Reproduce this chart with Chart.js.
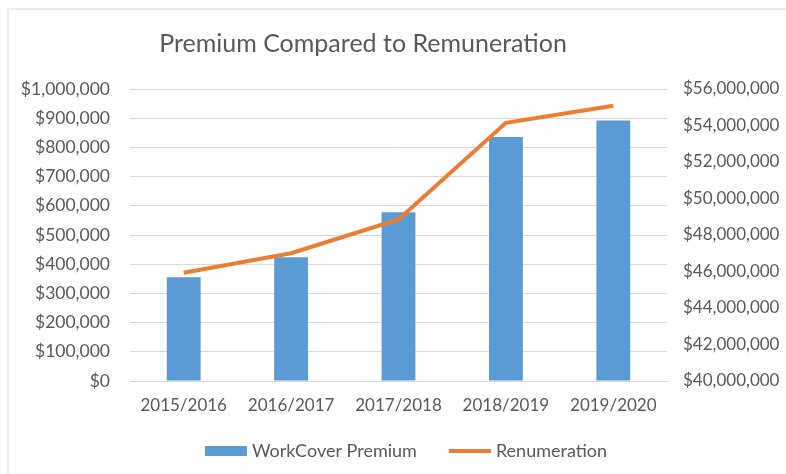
<!DOCTYPE html>
<html>
<head>
<meta charset="utf-8">
<script src="https://cdn.jsdelivr.net/npm/chart.js@4/dist/chart.umd.min.js"></script>
<style>
  html, body { margin: 0; padding: 0; background: #fff; }
  #wrap { position: relative; width: 786px; height: 474px; }
  #frame { position: absolute; left: 7px; top: 8px; right: 0; bottom: 0;
           border-left: 2px solid #ececec; border-top: 2px solid #ececec; }
  canvas { position: absolute; left: 0; top: 0; }
</style>
</head>
<body>
<div id="wrap">
  <div id="frame"></div>
  <canvas id="chart" width="786" height="474"></canvas>
</div>
<script>
const years = ['2015/2016', '2016/2017', '2017/2018', '2018/2019', '2019/2020'];
const premium = [355000, 424000, 578000, 836000, 892000];
const remuneration = [45930000, 47000000, 48850000, 54150000, 55080000];
const chartTitle = 'Premium Compared to Remuneration';

const textColor = '#595959';
const fontFamily = 'Lato, "Open Sans", sans-serif';

const money = v => '$' + Number(v).toLocaleString('en-US');

// title and legend sit a bit off-centre in the original (Excel style),
// so both are drawn here instead of by the built-in plugins
const excelBits = {
  id: 'excelBits',
  afterDraw(chart) {
    const c = chart.ctx;
    c.save();
    c.fillStyle = textColor;
    c.font = '25px ' + fontFamily;
    c.textAlign = 'center';
    c.textBaseline = 'alphabetic';
    c.fillText(chartTitle, 363, 52);

    // legend: bar entry first, then the line entry
    const bar = chart.data.datasets[1];
    const line = chart.data.datasets[0];
    c.font = '18px ' + fontFamily;
    c.textAlign = 'left';
    c.textBaseline = 'middle';
    const markW = 42, gap = 5, between = 32;
    const w1 = c.measureText(bar.label).width;
    const w2 = c.measureText(line.label).width;
    const total = markW + gap + w1 + between + markW + gap + w2;
    let x = 406 - total / 2;
    const y = 451;
    c.fillStyle = bar.backgroundColor;
    c.fillRect(x, y - 5, markW, 10);
    x += markW + gap;
    c.fillStyle = textColor;
    c.fillText(bar.label, x, y);
    x += w1 + between;
    c.strokeStyle = line.borderColor;
    c.lineWidth = line.borderWidth;
    c.beginPath();
    c.moveTo(x, y);
    c.lineTo(x + markW, y);
    c.stroke();
    x += markW + gap;
    c.fillText(line.label, x, y);
    c.restore();
  }
};

const ctx = document.getElementById('chart').getContext('2d');

new Chart(ctx, {
  data: {
    labels: years,
    datasets: [
      {
        type: 'line',
        label: 'Renumeration',
        data: remuneration,
        yAxisID: 'y1',
        borderColor: '#ed7d31',
        backgroundColor: '#ed7d31',
        borderWidth: 4,
        pointRadius: 0,
        tension: 0,
        order: 1
      },
      {
        type: 'bar',
        label: 'WorkCover Premium',
        data: premium,
        yAxisID: 'y',
        backgroundColor: '#5b9bd5',
        borderWidth: 0,
        barPercentage: 1,
        categoryPercentage: 0.315,
        order: 2
      }
    ]
  },
  plugins: [excelBits],
  options: {
    responsive: false,
    animation: false,
    layout: { padding: { left: 10, right: 0, top: 89, bottom: 57 } },
    plugins: {
      title: { display: false },
      legend: { display: false },
      tooltip: { enabled: false }
    },
    scales: {
      x: {
        afterFit: s => { s.height = 36; },
        grid: { display: false },
        border: { color: '#d9d9d9', width: 1 },
        ticks: { color: textColor, font: { family: fontFamily, size: 17 }, padding: 6 }
      },
      y: {
        position: 'left',
        min: 0,
        max: 1000000,
        afterFit: s => { s.width = 120; },
        grid: { color: '#d9d9d9', drawTicks: false },
        border: { display: false },
        ticks: {
          stepSize: 100000,
          color: textColor,
          font: { family: fontFamily, size: 17.5 },
          padding: 20,
          callback: money
        }
      },
      y1: {
        position: 'right',
        min: 40000000,
        max: 56000000,
        afterFit: s => { s.width = 119; },
        grid: { display: false, drawTicks: false },
        border: { display: false },
        ticks: {
          stepSize: 2000000,
          color: textColor,
          font: { family: fontFamily, size: 17 },
          padding: 16,
          callback: money
        }
      }
    }
  }
});
</script>
</body>
</html>
